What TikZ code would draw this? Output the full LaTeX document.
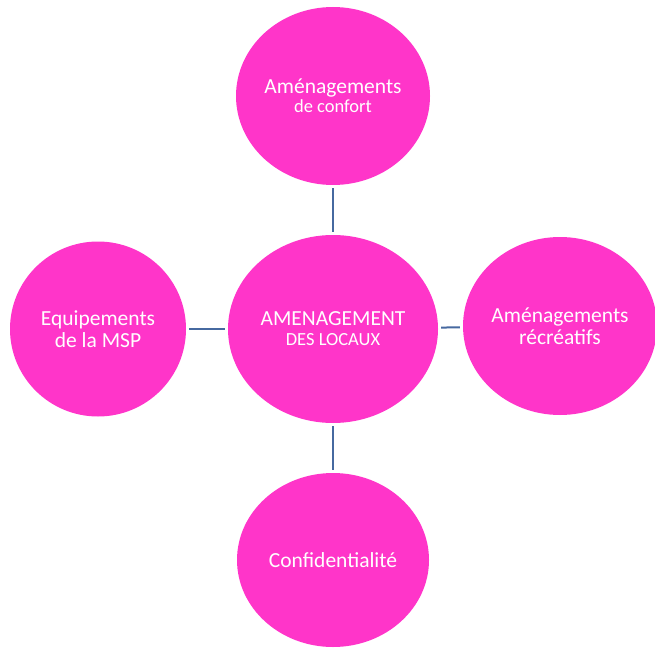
\documentclass[tikz,border=0pt]{standalone}
\usepackage{fontspec}
\setmainfont{Carlito}
\usetikzlibrary{shapes.geometric,positioning}

\definecolor{rose}{RGB}{255,53,201}
\definecolor{trait}{RGB}{70,105,160}

\tikzset{
	bulle/.style={ellipse, fill=rose, text=white, inner sep=0pt, align=center,
		font=\fontsize{21.5}{22}\selectfont},
	lien/.style={draw=trait, line width=2pt, shorten <=3pt, shorten >=3pt}
}
\newcommand{\petit}{\fontsize{18.5}{20}\selectfont}

\begin{document}
\begin{tikzpicture}[x=1pt, y=1pt, node distance=233pt]
	\useasboundingbox (0,0) rectangle (655,-647);

	\node[bulle, minimum width=210pt, minimum height=188pt, font=\fontsize{21.5}{20}\selectfont] (centre) at (333,-329) {AMENAGEMENT\\{\petit DES LOCAUX}};

	\node[bulle, minimum width=194pt, minimum height=178pt, font=\fontsize{21.5}{19}\selectfont] (confort) [above of=centre] {Am\'enagements\\{\petit de confort}};
	\node[bulle, minimum width=176pt, minimum height=175pt] (equip) [left of=centre, node distance=235pt] {Equipements\\de la MSP};
	\node[bulle, minimum width=194pt, minimum height=178pt] (recre) [right of=centre, node distance=227pt, yshift=3pt] {Am\'enagements\\r\'ecr\'eatifs};
	\node[bulle, minimum width=192pt, minimum height=174pt] (confid) [below of=centre, node distance=231pt] {Confidentialit\'e};

	\draw [lien] (centre) -- (confort);
	\draw [lien] (centre) -- (equip);
	\draw [lien] (centre) -- (recre);
	\draw [lien] (centre) -- (confid);
\end{tikzpicture}
\end{document}
